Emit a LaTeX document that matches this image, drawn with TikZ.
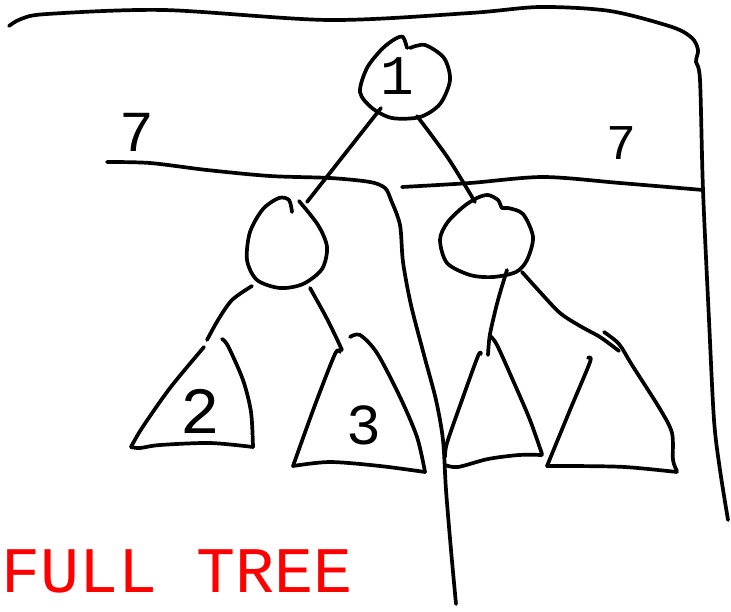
\documentclass[tikz,border=0pt]{standalone}
\usepackage{fontspec}
\newfontfamily\handfont{Liberation Mono}
\definecolor{inkred}{RGB}{255,0,0}
\tikzset{
  ink/.style={line width=3.7pt, line cap=round, line join=round},
  digitA/.style={inner sep=0pt, font=\handfont\fontsize{56}{56}\selectfont},
  digitB/.style={inner sep=0pt, font=\handfont\fontsize{66}{66}\selectfont},
  digitC/.style={inner sep=0pt, font=\handfont\fontsize{58}{58}\selectfont},
  digitD/.style={inner sep=0pt, font=\handfont\fontsize{50}{50}\selectfont},
  caption/.style={inner sep=0pt, anchor=base west, text=inkred, font=\handfont\fontsize{65}{65}\selectfont}
}
\begin{document}
\begin{tikzpicture}[x=1pt,y=-1pt]
\useasboundingbox (0,0) rectangle (731,611);
% outer frame (top and right)
\draw[ink] plot[smooth] coordinates {(9,26) (21,19) (47,14) (164,10) (329,20) (470,13) (540,7) (610,11) (672,27) (692,38) (698,50) (696,62) (700,80) (703,190) (709,320) (714,420) (720,470) (728,520)};
% left horizontal line turning into middle vertical line
\draw[ink] plot[smooth] coordinates {(107,162) (150,163) (207,170) (270,176) (330,178) (370,182) (385,188) (391,200) (400,225) (403,262) (411,305) (424,355) (436,400) (443,440) (446,490) (451,550) (456,604)};
% right horizontal line
\draw[ink] plot[smooth] coordinates {(402,187) (470,183) (543,177) (620,183) (703,190)};
% root
\draw[ink] plot[smooth] coordinates {(407,48) (403,37) (395,39) (382,49) (367,68) (360,92) (372,108) (392,118) (420,117) (440,104) (450,80) (444,58) (425,45) (410,48)};
\node[digitA] (one) at (397,76) {1};
\draw[ink] (381,108) -- (307,202);
\draw[ink] plot[smooth] coordinates {(417,116) (448,158) (475,202)};
% left child
\draw[ink] plot[smooth] coordinates {(292,212) (289,200) (279,198) (263,209) (250,232) (247,260) (257,280) (280,288) (303,284) (322,269) (327,247) (318,225) (299,201)};
\draw[ink] plot[smooth] coordinates {(252,286) (232,300) (218,320) (207,340)};
\draw[ink] plot[smooth] coordinates {(310,288) (325,315) (335,335) (342,350)};
% triangle with 2
\draw[ink] plot[smooth] coordinates {(204,347) (170,388) (142,428) (131,447)};
\draw[ink] plot[smooth] coordinates {(131,447) (140,448) (160,445) (210,443) (253,447)};
\draw[ink] plot[smooth] coordinates {(222,339) (228,346) (243,380) (251,412) (253,447)};
\node[digitB] (two) at (200,411) {2};
% triangle with 3
\draw[ink] plot[smooth] coordinates {(340,352) (335,354) (315,405) (293,466)};
\draw[ink] plot[smooth] coordinates {(293,466) (330,462) (380,466) (425,472)};
\draw[ink] plot[smooth] coordinates {(350,337) (360,335) (377,353) (400,397) (417,437) (425,472)};
\node[digitC] (three) at (364,425) {3};
% right child
\draw[ink] plot[smooth cycle] coordinates {(477,198) (488,195) (498,200) (502,208) (508,208) (523,214) (533,237) (527,260) (516,272) (493,277) (470,275) (447,263) (440,240) (447,223) (463,207)};
\draw[ink] plot[smooth] coordinates {(507,270) (498,300) (490,334) (488,355)};
\draw[ink] plot[smooth] coordinates {(522,272) (540,292) (560,313) (580,326) (600,337) (619,351)};
% triangle C
\draw[ink] plot[smooth] coordinates {(490,336) (497,345) (515,385) (530,420) (542,454)};
\draw[ink] plot[smooth] coordinates {(481,354) (478,356) (462,400) (447,443) (445,457)};
\draw[ink] plot[smooth] coordinates {(445,465) (458,467) (488,459) (519,455) (542,455)};
% triangle D
\draw[ink] plot[smooth] coordinates {(604,332) (619,344) (632,365) (660,409) (672,433) (673,460) (677,471)};
\draw[ink] plot[smooth] coordinates {(588,358) (590,362) (570,410) (547,466)};
\draw[ink] plot[smooth] coordinates {(547,466) (574,466) (625,467) (677,472)};
% sevens
\node[digitC] (sevenL) at (137,132) {7};
\node[digitD] (sevenR) at (621,143) {7};
% caption
\node[caption] (cap) at (1,592) {FULL TREE};
\end{tikzpicture}
\end{document}
